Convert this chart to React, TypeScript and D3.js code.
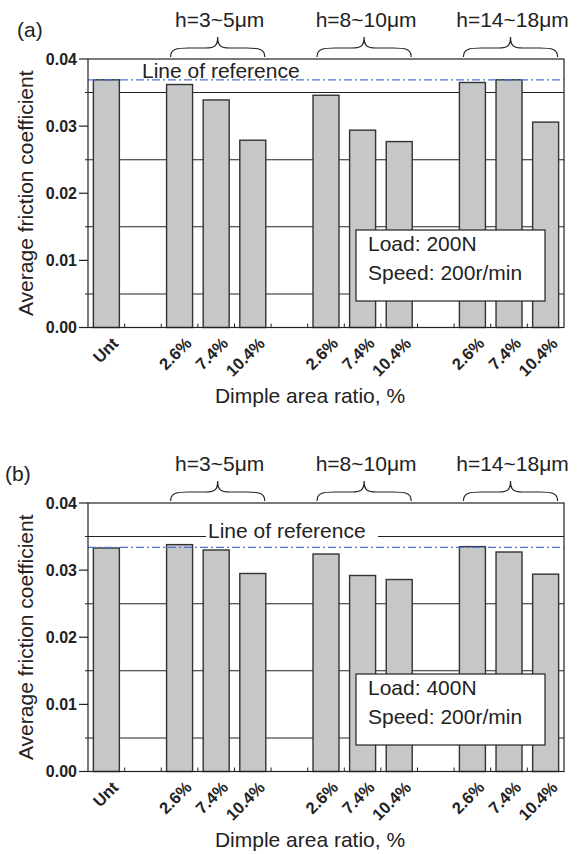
import React from "react";
import * as d3 from "d3";

const groups = ["h=3~5μm", "h=8~10μm", "h=14~18μm"];
const ratios = ["2.6%", "7.4%", "10.4%"];
const untLabel = "Unt";

const untA = 0.0369;
const valuesA = [
  [0.0362, 0.0339, 0.0279],
  [0.0346, 0.0294, 0.0277],
  [0.0365, 0.0369, 0.0306],
];
const refA = 0.0369;

const untB = 0.0333;
const valuesB = [
  [0.0338, 0.033, 0.0295],
  [0.0324, 0.0292, 0.0286],
  [0.0335, 0.0327, 0.0294],
];
const refB = 0.0334;

const yMajorTicks = [0, 0.01, 0.02, 0.03, 0.04];
const yMinorTicks = [0.005, 0.015, 0.025, 0.035];

const FONT = "'Liberation Sans', Arial, Helvetica, sans-serif";

const domain: string[] = [untLabel];
groups.forEach((g, gi) => {
  domain.push(`gap${gi}`);
  ratios.forEach((r) => domain.push(`${gi}-${r}`));
});

const X0 = 88;
const X1 = 564;
const PH = 268.5;

function Brace({ x0, x1, yb }: { x0: number; x1: number; yb: number }) {
  const xc = (x0 + x1) / 2;
  const ym = yb - 9;
  const yt = yb - 20;
  const d = `M${x0},${yb} C${x0},${ym + 1} ${x0 + 6},${ym} ${x0 + 18},${ym} L${xc - 12},${ym} C${xc - 3},${ym} ${xc},${ym - 2} ${xc},${yt} C${xc},${ym - 2} ${xc + 3},${ym} ${xc + 12},${ym} L${x1 - 18},${ym} C${x1 - 6},${ym} ${x1},${ym + 1} ${x1},${yb}`;
  return <path d={d} fill="none" stroke="#222" strokeWidth={1.2} />;
}

function Panel({
  top,
  unt,
  values,
  refValue,
  tag,
  tagX,
  load,
  variant,
}: {
  top: number;
  unt: number;
  values: number[][];
  refValue: number;
  tag: string;
  tagX: number;
  load: string;
  variant: "a" | "b";
}) {
  const bottom = top + PH;
  const x = d3
    .scaleBand<string>()
    .domain(domain)
    .range([X0, X1])
    .paddingInner(0.29)
    .paddingOuter(0.147);
  const y = d3.scaleLinear().domain([0, 0.04]).range([bottom, top]);
  const bw = x.bandwidth();
  const step = x.step();

  const bars: { key: string; v: number }[] = [{ key: untLabel, v: unt }];
  values.forEach((row, gi) =>
    row.forEach((v, ri) => bars.push({ key: `${gi}-${ratios[ri]}`, v }))
  );
  const labels: { key: string; text: string }[] = [
    { key: untLabel, text: untLabel },
  ];
  groups.forEach((g, gi) =>
    ratios.forEach((r) => labels.push({ key: `${gi}-${r}`, text: r }))
  );

  const boundaries = d3.range(1, domain.length).map((i) => X0 + step * (i + 0.002));

  const refY = y(refValue);
  const textRefX = variant === "a" ? 142 : 208;
  const textRefY = variant === "a" ? refY - 2 : y(0.035) + 1.5;

  return (
    <g>
      {yMinorTicks.map((t) => (
        <line key={t} x1={X0 - 3} x2={X1} y1={y(t)} y2={y(t)} stroke="#222" strokeWidth={1.1} />
      ))}
      {variant === "b" && (
        <rect x={textRefX - 2} y={y(0.035) - 2} width={172} height={4} fill="#fff" />
      )}
      {bars.map((b) => (
        <rect
          key={b.key}
          x={x(b.key)!}
          y={y(b.v)}
          width={bw}
          height={bottom - y(b.v)}
          fill="#c6c7c9"
          stroke="#333"
          strokeWidth={1.4}
        />
      ))}
      <line
        x1={X0}
        x2={X1}
        y1={refY}
        y2={refY}
        stroke="#4f74d2"
        strokeWidth={1.3}
        strokeDasharray="8,3,2,3"
      />
      <text x={textRefX} y={textRefY} fontFamily={FONT} fontSize={21} fill="#222">
        Line of reference
      </text>
      <rect x={X0} y={top} width={X1 - X0} height={PH} fill="none" stroke="#222" strokeWidth={1.2} />
      {yMajorTicks.map((t) => (
        <g key={t}>
          <line x1={X0 - 9} x2={X0} y1={y(t)} y2={y(t)} stroke="#222" strokeWidth={1.2} />
          <text
            x={X0 - 11}
            y={y(t)}
            dy="0.35em"
            textAnchor="end"
            fontFamily={FONT}
            fontWeight="bold"
            fontSize={16}
            fill="#222"
          >
            {d3.format(".2f")(t)}
          </text>
        </g>
      ))}
      {boundaries.map((bx, i) => (
        <line key={i} x1={bx} x2={bx} y1={bottom} y2={bottom - 4} stroke="#222" strokeWidth={1} />
      ))}
      {labels.map((l) => {
        const cx = x(l.key)! + bw / 2;
        return (
          <text
            key={l.key}
            transform={`translate(${cx + 13},${bottom + 17}) rotate(-45)`}
            textAnchor="end"
            fontFamily={FONT}
            fontWeight="bold"
            fontSize={16.5}
            fill="#222"
          >
            {l.text}
          </text>
        );
      })}
      {groups.map((g, gi) => {
        const xa = x(`${gi}-${ratios[0]}`)! + 4;
        const xb = x(`${gi}-${ratios[2]}`)! + bw - 1;
        return (
          <g key={g}>
            <Brace x0={xa} x1={xb} yb={top - 2} />
            <text
              x={(xa + xb) / 2 + 2}
              y={top - 32}
              textAnchor="middle"
              fontFamily={FONT}
              fontSize={21}
              fill="#222"
            >
              {g}
            </text>
          </g>
        );
      })}
      <rect x={356} y={top + 171} width={189} height={71} fill="#fff" stroke="#222" strokeWidth={1.2} />
      <text x={368} y={top + 192} fontFamily={FONT} fontSize={21} fill="#222">
        {load}
      </text>
      <text x={368} y={top + 221} fontFamily={FONT} fontSize={21} fill="#222">
        Speed: 200r/min
      </text>
      <text
        transform={`translate(33,${(top + bottom) / 2}) rotate(-90)`}
        textAnchor="middle"
        fontFamily={FONT}
        fontSize={21}
        fill="#222"
      >
        Average friction coefficient
      </text>
      <text x={310} y={bottom + 75} textAnchor="middle" fontFamily={FONT} fontSize={21} fill="#222">
        Dimple area ratio, %
      </text>
      <text x={tagX} y={top - 22} fontFamily={FONT} fontSize={21} fill="#222">
        {tag}
      </text>
    </g>
  );
}

export default function App() {
  return (
    <div style={{ position: "absolute", left: 0, top: 0 }}>
      <svg width={579} height={854} style={{ display: "block", background: "#fff" }}>
        <Panel top={59} unt={untA} values={valuesA} refValue={refA} tag="(a)" tagX={17} load="Load: 200N" variant="a" />
        <Panel top={503} unt={untB} values={valuesB} refValue={refB} tag="(b)" tagX={5} load="Load: 400N" variant="b" />
      </svg>
    </div>
  );
}
